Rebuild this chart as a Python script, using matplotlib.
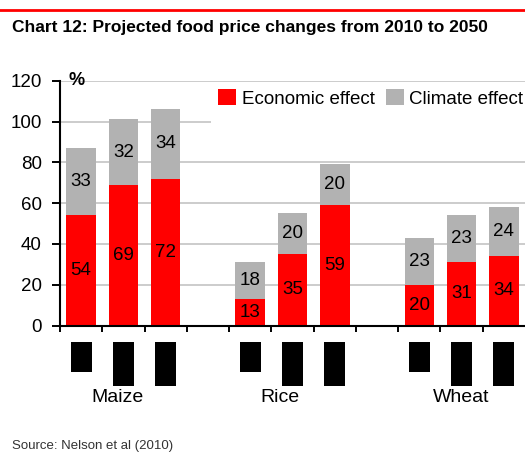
import matplotlib
matplotlib.use("Agg")
import matplotlib.pyplot as plt
from matplotlib.patches import Rectangle, Patch
from matplotlib.transforms import blended_transform_factory
import numpy as np

plt.rcParams['font.family'] = ['Liberation Sans', 'DejaVu Sans']

crops = ["Maize", "Rice", "Wheat"]
economic = [[54, 69, 72], [13, 35, 59], [20, 31, 34]]
climate = [[33, 32, 34], [18, 20, 20], [23, 23, 24]]
yticks = [0, 20, 40, 60, 80, 100, 120]
series_names = ["Economic effect", "Climate effect"]
red = "#FF0000"
grey = "#B2B2B2"

W, H = 525, 454
fig = plt.figure(figsize=(W / 100, H / 100), dpi=100)
ax = fig.add_axes([60 / W, 1 - 325.5 / H, 1 - 60 / W, (325.5 - 80.7) / H])

# slot positions: 3 bars per crop, one empty slot between groups
positions = []
for g in range(len(crops)):
    positions.append([g * 4 + k for k in range(3)])

width = 0.7
for g in range(len(crops)):
    xs = positions[g]
    e = economic[g]
    c = climate[g]
    ax.bar(xs, e, width, color=red, zorder=2)
    ax.bar(xs, c, width, bottom=e, color=grey, zorder=2)
    for x, ev, cv in zip(xs, e, c):
        ax.text(x, ev / 2, str(ev), ha='center', va='center', fontsize=13.5, zorder=3)
        ax.text(x, ev + cv / 2, str(cv), ha='center', va='center', fontsize=13.5, zorder=3)

ax.set_xlim(-0.5, 10.5)
ax.set_ylim(0, 120)
ax.set_yticks(yticks)
ax.set_yticklabels([str(v) for v in yticks], fontsize=13.5)
ax.yaxis.grid(True, color="#C8C8C8", linewidth=1.3, zorder=0)
ax.set_axisbelow(True)
ax.tick_params(axis='y', direction='out', length=6, width=1.4, pad=7)
ax.set_xticks(np.arange(-0.5, 10.0, 1.0))
ax.set_xticklabels([])
ax.tick_params(axis='x', direction='out', length=4, width=1.4)
for s in ['top', 'right']:
    ax.spines[s].set_visible(False)
for s in ['left', 'bottom']:
    ax.spines[s].set_linewidth(1.5)
    ax.spines[s].set_zorder(4)

# white background behind legend (covers gridlines)
bg = Rectangle(((211 - 60) / (W - 60), (325.5 - 125) / (325.5 - 80.7)),
               1.0, (125 - 84) / (325.5 - 80.7), transform=ax.transAxes,
               facecolor='white', edgecolor='none', zorder=1)
ax.add_patch(bg)

handles = [Patch(facecolor=red), Patch(facecolor=grey)]
leg = ax.legend(handles, series_names, loc='upper right', bbox_to_anchor=(1.0, 0.975),
                ncol=2, frameon=False, fontsize=13.5, handlelength=0.95, handleheight=1.0,
                handletextpad=0.3, columnspacing=0.6, borderaxespad=0.0, borderpad=0.1)

ax.text(0.018, 1.0, "%", transform=ax.transAxes, fontsize=13, fontweight='bold',
        ha='left', va='center')

# redacted tick labels (black boxes)
bt = blended_transform_factory(ax.transData, fig.transFigure)
for g in range(len(crops)):
    for k, x in enumerate(positions[g]):
        h = 30 if k == 0 else 44
        ax.add_patch(Rectangle((x - 0.25, 1 - (342 + h) / H), 0.5, h / H,
                               transform=bt, facecolor='black', edgecolor='none',
                               clip_on=False))

label_offsets = [-0.15, -0.3, 0.0]
for g, name in enumerate(crops):
    ax.text(positions[g][1] + label_offsets[g], 1 - 397 / H, name, transform=bt,
            ha='center', va='center', fontsize=14)

fig.add_artist(plt.Line2D([0, 1], [1 - 10 / H, 1 - 10 / H], color=red, linewidth=2.0))
fig.text(12 / W, 1 - 20 / H, "Chart 12: Projected food price changes from 2010 to 2050",
         fontsize=12.5, fontweight='bold', ha='left', va='top')
fig.text(12 / W, 1 - 440 / H, "Source: Nelson et al (2010)", fontsize=9.5, color="#333333",
         ha='left', va='top')

fig.savefig("out.png", dpi=100)
